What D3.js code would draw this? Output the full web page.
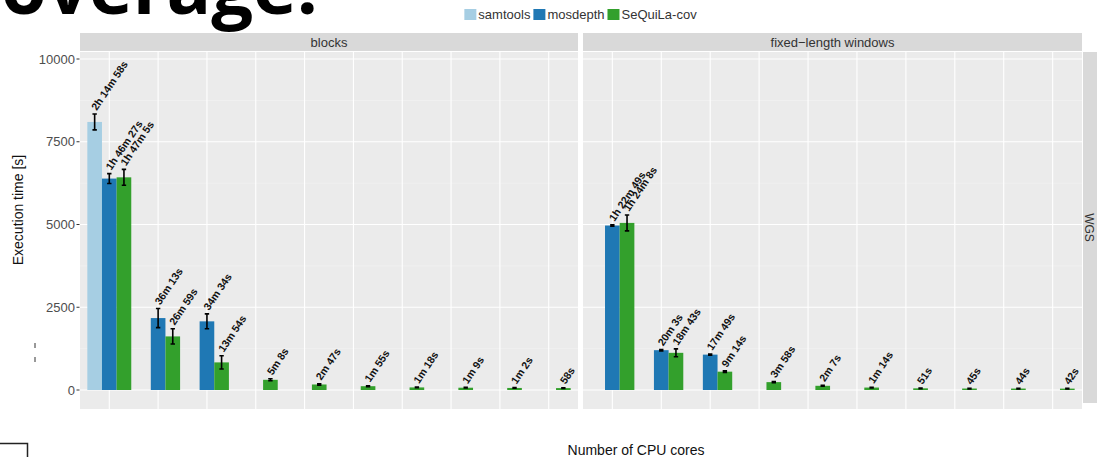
<!DOCTYPE html>
<html>
<head>
<meta charset="utf-8">
<script src="https://cdn.jsdelivr.net/npm/d3@7"></script>
<style>
  html, body { margin: 0; padding: 0; background: #fff; }
  svg { display: block; }
  text { font-family: "Liberation Sans", Arial, Helvetica, sans-serif; }
</style>
</head>
<body>
<script>
// ---------- DATA ----------
const groups = [1, 2, 3, 4, 5, 6, 7, 8, 9, 10];   // CPU-core settings (tick labels not visible)
const seriesNames = ["samtools", "mosdepth", "SeQuiLa-cov"];
const seriesColors = ["#A6CEE3", "#1F78B4", "#33A02C"];
const facetNames = ["blocks", "fixed\u2212length windows"];
const rowStrip = "WGS";
const yTicks = [0, 2500, 5000, 7500, 10000];

// execution time in seconds (mean), null = not run
const blocksSamtools = [8098, null, null, null, null, null, null, null, null, null];
const blocksMosdepth = [6387, 2173, 2074, null, null, null, null, null, null, null];
const blocksSequila  = [6425, 1619, 834, 308, 167, 115, 78, 69, 62, 58];
const windowsSamtools = [null, null, null, null, null, null, null, null, null, null];
const windowsMosdepth = [4969, 1203, 1069, null, null, null, null, null, null, null];
const windowsSequila  = [5048, 1123, 554, 238, 127, 74, 51, 45, 44, 42];

// error (seconds)
const blocksSamtoolsErr = [240, null, null, null, null, null, null, null, null, null];
const blocksMosdepthErr = [150, 290, 225, null, null, null, null, null, null, null];
const blocksSequilaErr  = [240, 230, 200, 30, 20, 15, 10, 10, 10, 10];
const windowsSamtoolsErr = [null, null, null, null, null, null, null, null, null, null];
const windowsMosdepthErr = [20, 20, 20, null, null, null, null, null, null, null];
const windowsSequilaErr  = [240, 120, 25, 20, 15, 10, 10, 10, 10, 10];

// ---------- HELPERS ----------
function fmtTime(sec) {
  const h = Math.floor(sec / 3600), m = Math.floor((sec % 3600) / 60), s = sec % 60;
  if (h > 0) return `${h}h ${m}m ${s}s`;
  if (m > 0) return `${m}m ${s}s`;
  return `${s}s`;
}

const facets = [
  { name: facetNames[0], values: [blocksSamtools, blocksMosdepth, blocksSequila],
    errs: [blocksSamtoolsErr, blocksMosdepthErr, blocksSequilaErr], x0: 80, x1: 578 },
  { name: facetNames[1], values: [windowsSamtools, windowsMosdepth, windowsSequila],
    errs: [windowsSamtoolsErr, windowsMosdepthErr, windowsSequilaErr], x0: 583, x1: 1082 }
];

const W = 1097, H = 457;
const panelTop = 52, panelBottom = 409;
const stripTop = 33;

const svg = d3.select("body").append("svg").attr("width", W).attr("height", H);

const y = d3.scaleLinear().domain([0, 10000]).range([390, 59]);

// ---------- TITLE (cropped at top, as in the source) ----------
const title = svg.append("text")
  .attr("text-anchor", "end")
  .attr("x", 318).attr("y", 14)
  .style("font-family", "'Open Sans', sans-serif")
  .style("font-weight", 700)
  .attr("fill", "#000")
  .style("font-size", "100px")
  .text("overage.");
const tw = title.node().getComputedTextLength();
title.style("font-size", (100 * 317 / tw) + "px").text("Coverage.");

// ---------- LEGEND ----------
const legend = svg.append("g");
let lx = 0;
seriesNames.forEach((n, i) => {
  legend.append("rect").attr("x", lx).attr("y", 9).attr("width", 12).attr("height", 11)
    .attr("fill", seriesColors[i]);
  const t = legend.append("text").attr("x", lx + 14).attr("y", 18.5)
    .style("font-size", "13px").attr("fill", "#333").text(n);
  lx += 14 + t.node().getComputedTextLength() + 3;
});
legend.attr("transform", `translate(${582 - lx / 2},0)`);

// ---------- PANELS ----------
facets.forEach((f, fi) => {
  const g = svg.append("g");
  const x = d3.scalePoint().domain(groups).range([f.x0, f.x1]).padding(0.6);
  const step = x.step();
  const dodge = d3.scaleBand().domain(seriesNames).range([-0.45 * step, 0.45 * step]);

  // background
  g.append("rect").attr("x", f.x0).attr("y", panelTop)
    .attr("width", f.x1 - f.x0).attr("height", panelBottom - panelTop).attr("fill", "#EBEBEB");

  // minor gridlines
  const minor = [1250, 3750, 6250, 8750];
  g.selectAll(".minor").data(minor).join("line")
    .attr("x1", f.x0).attr("x2", f.x1)
    .attr("y1", d => y(d)).attr("y2", d => y(d))
    .attr("stroke", "#F5F5F5").attr("stroke-width", 0.6);
  // major gridlines
  g.selectAll(".major").data(yTicks).join("line")
    .attr("x1", f.x0).attr("x2", f.x1)
    .attr("y1", d => y(d)).attr("y2", d => y(d))
    .attr("stroke", "#fff").attr("stroke-width", 1.1);
  g.selectAll(".vgrid").data(groups).join("line")
    .attr("x1", d => x(d)).attr("x2", d => x(d))
    .attr("y1", panelTop).attr("y2", panelBottom)
    .attr("stroke", "#fff").attr("stroke-width", 1.1);

  // top strip
  g.append("rect").attr("x", f.x0).attr("y", stripTop)
    .attr("width", f.x1 - f.x0).attr("height", panelTop - stripTop - 1).attr("fill", "#D9D9D9");
  g.append("text").attr("x", (f.x0 + f.x1) / 2).attr("y", (stripTop + panelTop - 1) / 2 + 4.5)
    .attr("text-anchor", "middle").style("font-size", "13px").attr("fill", "#333").text(f.name);

  // bars, error bars, labels
  seriesNames.forEach((sn, si) => {
    const vals = f.values[si], errs = f.errs[si];
    const recs = groups.map((gr, i) => ({ gr, v: vals[i], e: errs[i] || 0 })).filter(d => d.v != null);
    const bw = dodge.bandwidth();
    g.selectAll(null).data(recs).join("rect")
      .attr("x", d => x(d.gr) + dodge(sn))
      .attr("y", d => y(d.v))
      .attr("width", bw)
      .attr("height", d => y(0) - y(d.v))
      .attr("fill", seriesColors[si]);
    const cx = d => x(d.gr) + dodge(sn) + bw / 2;
    g.selectAll(null).data(recs).join("path")
      .attr("d", d => {
        const c = cx(d), t = y(d.v + d.e), b = y(d.v - d.e);
        return `M${c - 2.2},${t}H${c + 2.2}M${c},${t}V${b}M${c - 2.2},${b}H${c + 2.2}`;
      })
      .attr("stroke", "#000").attr("stroke-width", 1.6).attr("fill", "none");
    g.selectAll(null).data(recs).join("text")
      .attr("transform", d => `translate(${cx(d) - 1},${y(d.v + d.e) - 5}) rotate(-56)`)
      .attr("dy", "0.35em")
      .style("font-size", "10.5px").style("font-weight", "bold").attr("fill", "#111")
      .text(d => fmtTime(d.v));
  });
});

// right strip
svg.append("rect").attr("x", 1083).attr("y", panelTop).attr("width", 20).attr("height", 403 - panelTop)
  .attr("fill", "#D9D9D9");
svg.append("text").attr("transform", `translate(1085,${(panelTop + 403) / 2}) rotate(90)`)
  .attr("text-anchor", "middle").style("font-size", "12px").attr("fill", "#333").text(rowStrip);

// ---------- Y AXIS ----------
const ya = svg.append("g");
ya.selectAll("text").data(yTicks).join("text")
  .attr("x", 75).attr("y", d => y(d)).attr("dy", "0.35em")
  .attr("text-anchor", "end").style("font-size", "13px").attr("fill", "#4D4D4D")
  .text(d => d);
ya.selectAll("line").data(yTicks).join("line")
  .attr("x1", 76.5).attr("x2", 79.5).attr("y1", d => y(d)).attr("y2", d => y(d))
  .attr("stroke", "#333").attr("stroke-width", 1);

svg.append("text").attr("transform", `translate(23,210) rotate(-90)`)
  .attr("text-anchor", "middle").style("font-size", "14px").attr("fill", "#111")
  .text("Execution time [s]");

// small marks near axis title
svg.append("line").attr("x1", 35).attr("x2", 35).attr("y1", 343).attr("y2", 348).attr("stroke", "#333").attr("stroke-width", 1);
svg.append("line").attr("x1", 35).attr("x2", 35).attr("y1", 357).attr("y2", 362).attr("stroke", "#333").attr("stroke-width", 1);

// ---------- X AXIS TITLE ----------
svg.append("text").attr("x", 636).attr("y", 455).attr("text-anchor", "middle")
  .style("font-size", "14px").attr("fill", "#111").text("Number of CPU cores");

// bracket at bottom-left
svg.append("path").attr("d", "M0,443.5H27.5V457").attr("stroke", "#222").attr("stroke-width", 1.5).attr("fill", "none");
</script>
</body>
</html>
